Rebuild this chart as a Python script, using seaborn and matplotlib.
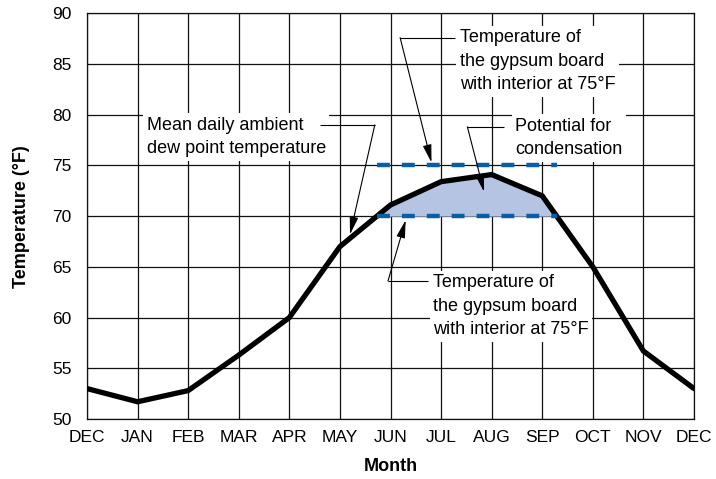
import numpy as np
import pandas as pd
import matplotlib
matplotlib.use("Agg")
import matplotlib.pyplot as plt
import seaborn as sns

months = ["DEC", "JAN", "FEB", "MAR", "APR", "MAY", "JUN", "JUL", "AUG", "SEP", "OCT", "NOV", "DEC"]
dew_point = [53.0, 51.7, 52.8, 56.3, 60.0, 67.0, 71.1, 73.4, 74.1, 72.0, 65.0, 56.7, 53.0]
board_temps = [75, 70]
y_ticks = [50, 55, 60, 65, 70, 75, 80, 85, 90]

sns.set_theme(style="white")
plt.rcParams["font.family"] = ["Liberation Sans", "DejaVu Sans"]

df = pd.DataFrame({"pos": np.arange(len(months)), "temp": dew_point})

fig = plt.figure(figsize=(7.16, 4.79), dpi=100)
ax = fig.add_axes([87 / 716, 1 - 419 / 479, (694 - 87) / 716, (419 - 13.3) / 479])

# crossing points of the dew point curve with 70 F
x = df["pos"].to_numpy(dtype=float)
y = df["temp"].to_numpy(dtype=float)
low = board_temps[1]
crossings = []
for i in range(len(x) - 1):
    if (y[i] - low) * (y[i + 1] - low) < 0:
        crossings.append(x[i] + (low - y[i]) / (y[i + 1] - y[i]) * (x[i + 1] - x[i]))
x0, x1 = crossings[0], crossings[-1]

ax.fill_between(x, y, low, where=y > low, interpolate=True, color="#b6c4e4", lw=0, zorder=2)
sns.lineplot(data=df, x="pos", y="temp", ax=ax, color="black", lw=3.8, zorder=4,
             solid_joinstyle="miter")
for bt in board_temps:
    ax.plot([x0, x1], [bt, bt], color="#0a5ea8", lw=3.2, dashes=(2.9, 2.7), zorder=5,
            solid_capstyle="butt", dash_capstyle="butt")

ax.set_xlim(0, len(months) - 1)
ax.set_ylim(50, 90)
ax.set_xticks(np.arange(len(months)))
ax.set_xticklabels(months)
ax.set_yticks(y_ticks)
ax.grid(True, color="#111111", lw=0.9)
ax.set_axisbelow(True)
for s in ax.spines.values():
    s.set_color("#111111")
    s.set_linewidth(0.9)
ax.tick_params(axis="both", length=0, labelsize=12.5, colors="black")
ax.tick_params(axis="y", pad=11)
ax.tick_params(axis="x", pad=8)
ax.set_xlabel("Month", fontsize=13, fontweight="bold", labelpad=9, color="black")
ax.set_ylabel("Temperature (°F)", fontsize=13, fontweight="bold", labelpad=16, color="black")

box = dict(facecolor="white", edgecolor="none", pad=2.5)
tkw = dict(fontsize=13, ha="left", va="center", linespacing=1.5, zorder=6, bbox=box, color="black")
akw = dict(arrowstyle="-|>,head_length=0.9,head_width=0.22", color="black", lw=0.8,
           shrinkA=0, shrinkB=0)

def callout(text, txy, hx, hy, tip):
    ax.text(txy[0], txy[1], text, **tkw)
    ax.plot(hx, [hy, hy], color="black", lw=0.8, zorder=7, solid_capstyle="butt")
    ax.annotate("", xy=tip, xytext=(hx[1], hy), arrowprops=akw, zorder=7)

callout("Temperature of\nthe gypsum board\nwith interior at 75°F", (7.37, 85.27),
        [7.27, 6.19], 87.6, (6.81, 75.3))
callout("Potential for\ncondensation", (8.46, 77.7), [8.24, 7.52], 78.8, (7.85, 72.4))
callout("Mean daily ambient\ndew point temperature", (1.18, 77.8), [4.6, 5.69], 79.0, (5.2, 68.2))
callout("Temperature of\nthe gypsum board\nwith interior at 75°F", (6.84, 61.1),
        [6.74, 5.95], 63.6, (6.3, 69.6))

fig.savefig("out.png", dpi=100)
